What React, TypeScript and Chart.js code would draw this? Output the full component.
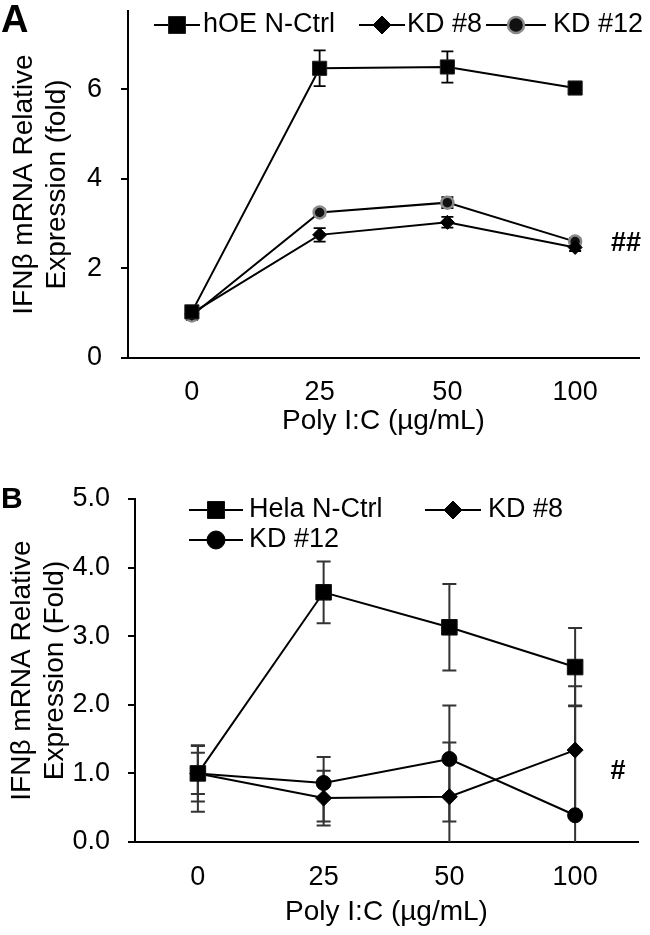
import React, { useEffect, useRef } from 'react';
import { Chart, registerables } from 'chart.js';

Chart.register(...registerables);

const FONT = "'Liberation Sans', Arial, Helvetica, sans-serif";

// ---------- data ----------
const doses = ['0', '25', '50', '100'];

// Panel A (mean, +error, -error)
const aCtrl = [1.03, 6.47, 6.5, 6.03];
const aCtrlErr = [0.1, 0.4, 0.35, 0.12];
const aKD8 = [1.0, 2.75, 3.03, 2.47];
const aKD8Err = [0.08, 0.15, 0.12, 0.08];
const aKD12 = [0.95, 3.25, 3.47, 2.6];
const aKD12Err = [0.1, 0.07, 0.12, 0.08];

// Panel B
const bCtrl = [1.0, 3.64, 3.13, 2.55];
const bCtrlErr = [0.41, 0.45, 0.63, 0.57];
const bKD8 = [1.0, 0.64, 0.66, 1.34];
const bKD8Err = [0.3, 0.4, 0.79, 0.93];
const bKD12 = [1.0, 0.86, 1.21, 0.39];
const bKD12ErrUp = [0.4, 0.38, 0.78, 1.6];
const bKD12ErrDown = [0.56, 0.56, 0.91, 1.6];

const labelsA = ['hOE N-Ctrl', 'KD #8', 'KD #12'];
const labelsB = ['Hela N-Ctrl', 'KD #8', 'KD #12'];

const yTitleA = ['IFNβ mRNA Relative', 'Expression (fold)'];
const yTitleB = ['IFNβ mRNA Relative', 'Expression (Fold)'];
const xTitle = 'Poly I:C (µg/mL)';

// ---------- helpers ----------
function drawMarker(ctx: CanvasRenderingContext2D, shape: string, x: number, y: number, r: number, fill: string, stroke: string, bw: number) {
  ctx.beginPath();
  if (shape === 'rect') {
    const s = r * Math.SQRT1_2;
    ctx.rect(x - s, y - s, 2 * s, 2 * s);
  } else if (shape === 'rectRot') {
    ctx.moveTo(x, y - r);
    ctx.lineTo(x + r, y);
    ctx.lineTo(x, y + r);
    ctx.lineTo(x - r, y);
    ctx.closePath();
  } else {
    ctx.arc(x, y, r, 0, Math.PI * 2);
    ctx.closePath();
  }
  ctx.fillStyle = fill;
  ctx.fill();
  if (bw > 0) {
    ctx.lineWidth = bw;
    ctx.strokeStyle = stroke;
    ctx.stroke();
  }
}

const errorBarPlugin = {
  id: 'errorBars',
  beforeDatasetsDraw(chart: any, _args: any, opts: any) {
    const { ctx, chartArea } = chart;
    const yScale = chart.scales.y;
    ctx.save();
    ctx.beginPath();
    ctx.rect(chartArea.left, chartArea.top - 2, chartArea.right - chartArea.left, chartArea.bottom - chartArea.top + 2);
    ctx.clip();
    ctx.strokeStyle = opts.color;
    ctx.lineWidth = opts.width;
    chart.data.datasets.forEach((ds: any, di: number) => {
      const meta = chart.getDatasetMeta(di);
      const up: number[] = ds.errorsUp || [];
      const down: number[] = ds.errorsDown || up;
      meta.data.forEach((pt: any, i: number) => {
        const v = ds.data[i];
        const eu = up[i] || 0;
        const ed = down[i] || 0;
        const x = pt.x;
        const yt = yScale.getPixelForValue(v + eu);
        const yb = yScale.getPixelForValue(v - ed);
        ctx.beginPath();
        ctx.moveTo(x, yt);
        ctx.lineTo(x, yb);
        if (v + eu <= yScale.max) {
          ctx.moveTo(x - opts.cap, yt);
          ctx.lineTo(x + opts.cap, yt);
        }
        if (v - ed >= yScale.min) {
          ctx.moveTo(x - opts.cap, yb);
          ctx.lineTo(x + opts.cap, yb);
        }
        ctx.stroke();
      });
    });
    ctx.restore();
  },
};

const lineLegendPlugin = {
  id: 'lineLegend',
  afterDraw(chart: any, _args: any, opts: any) {
    const { ctx } = chart;
    ctx.save();
    ctx.font = `${opts.fontSize}px ${FONT}`;
    ctx.textBaseline = 'middle';
    ctx.textAlign = 'left';
    (opts.items || []).forEach((it: any, di: number) => {
      const ds = chart.data.datasets[di];
      ctx.strokeStyle = '#000';
      ctx.lineWidth = 2;
      ctx.beginPath();
      ctx.moveTo(it.x0, it.y);
      ctx.lineTo(it.x1, it.y);
      ctx.stroke();
      drawMarker(ctx, ds.pointStyle, (it.x0 + it.x1) / 2, it.y, it.r, ds.pointBackgroundColor, ds.pointBorderColor, ds.pointBorderWidth);
      ctx.fillStyle = '#000';
      ctx.fillText(ds.label, it.tx, it.y);
    });
    ctx.restore();
  },
};

const panelTextPlugin = {
  id: 'panelText',
  afterDraw(chart: any, _args: any, opts: any) {
    const { ctx } = chart;
    const yScale = chart.scales.y;
    ctx.save();
    (opts.items || []).forEach((it: any) => {
      ctx.font = `bold ${it.size}px ${FONT}`;
      ctx.fillStyle = '#000';
      ctx.textAlign = it.align || 'left';
      ctx.textBaseline = it.baseline || 'alphabetic';
      const y = it.yValue !== undefined ? yScale.getPixelForValue(it.yValue) : it.y;
      ctx.fillText(it.text, it.x, y);
    });
    ctx.restore();
  },
};

function makeConfig(p: any): any {
  return {
    type: 'line',
    data: {
      labels: doses,
      datasets: p.datasets,
    },
    plugins: [errorBarPlugin, lineLegendPlugin, panelTextPlugin],
    options: {
      responsive: false,
      animation: false,
      events: [],
      layout: { padding: p.padding },
      plugins: {
        legend: { display: false },
        tooltip: { enabled: false },
        errorBars: p.err,
        lineLegend: p.legend,
        panelText: p.texts,
      },
      scales: {
        x: {
          type: 'category',
          offset: true,
          afterFit: (s: any) => {
            s.height = p.xHeight;
            s.paddingLeft = 0;
            s.paddingRight = 0;
          },
          ticks: { font: { size: 27, family: FONT }, color: '#000', padding: p.xTickPad, maxRotation: 0, autoSkip: false },
          grid: { display: false, drawTicks: false },
          border: { display: true, color: '#000', width: 2 },
          title: { display: true, text: xTitle, font: { size: 28, family: FONT }, color: '#000', padding: { top: 0, bottom: 0 } },
        },
        y: {
          type: 'linear',
          min: 0,
          max: p.yMax,
          afterFit: (s: any) => {
            s.width = p.yWidth;
            s.paddingTop = 0;
            s.paddingBottom = 0;
          },
          ticks: {
            stepSize: p.yStep,
            includeBounds: false,
            font: { size: 27, family: FONT },
            color: '#000',
            padding: p.yTickPad,
            callback: (v: any) => (p.yDecimals ? Number(v).toFixed(p.yDecimals) : String(v)),
          },
          grid: { drawOnChartArea: false, drawTicks: true, tickLength: 7, color: '#000', lineWidth: 2 },
          border: { display: true, color: '#000', width: 2 },
          title: { display: true, text: p.yTitle, font: { size: 28, family: FONT, lineHeight: 1.2 }, color: '#000', padding: { top: p.yTitlePad, bottom: 0 } },
        },
      },
    },
  };
}

function lineDs(label: string, data: number[], errorsUp: number[], errorsDown: number[], style: string, r: number, fill: string, stroke: string, bw: number) {
  return {
    label,
    data,
    errorsUp,
    errorsDown,
    borderColor: '#000',
    borderWidth: 2,
    tension: 0,
    fill: false,
    pointStyle: style,
    pointRadius: r,
    pointBackgroundColor: fill,
    pointBorderColor: stroke,
    pointBorderWidth: bw,
  };
}

function ChartPanel({ makeCfg, width, height }: { makeCfg: () => any; width: number; height: number }) {
  const ref = useRef<HTMLCanvasElement | null>(null);
  useEffect(() => {
    if (!ref.current) return;
    const chart = new Chart(ref.current, makeCfg());
    return () => chart.destroy();
  }, []);
  return <canvas ref={ref} width={width} height={height} style={{ display: 'block', width: width + 'px', height: height + 'px' }} />;
}

const configA = () =>
  makeConfig({
    datasets: [
      lineDs(labelsA[0], aCtrl, aCtrlErr, aCtrlErr, 'rect', 10, '#000', '#222', 1),
      lineDs(labelsA[1], aKD8, aKD8Err, aKD8Err, 'rectRot', 7, '#000', '#000', 1),
      lineDs(labelsA[2], aKD12, aKD12Err, aKD12Err, 'circle', 6, '#111', '#8a8a8a', 2.5),
    ],
    padding: { left: 0, right: 2, top: 11, bottom: 22 },
    yWidth: 128,
    xHeight: 80,
    yMax: 7.75,
    yStep: 2,
    yDecimals: 0,
    yTickPad: 19,
    xTickPad: 18,
    yTitle: yTitleA,
    yTitlePad: 7,
    err: { color: '#000', width: 1.8, cap: 6 },
    legend: {
      fontSize: 27,
      items: [
        { x0: 154, x1: 200, tx: 203, y: 25, r: 12 },
        { x0: 359, x1: 405, tx: 407, y: 25, r: 9 },
        { x0: 486, x1: 546, tx: 553, y: 25, r: 8 },
      ],
    },
    texts: {
      items: [
        { text: 'A', x: 1, y: 32, size: 38 },
        { text: '##', x: 626, yValue: 2.55, size: 27, align: 'center', baseline: 'middle' },
      ],
    },
  });

const configB = () =>
  makeConfig({
    datasets: [
      lineDs(labelsB[0], bCtrl, bCtrlErr, bCtrlErr, 'rect', 11, '#000', '#111', 1),
      lineDs(labelsB[1], bKD8, bKD8Err, bKD8Err, 'rectRot', 8, '#000', '#000', 1),
      lineDs(labelsB[2], bKD12, bKD12ErrUp, bKD12ErrDown, 'circle', 7.5, '#000', '#000', 1),
    ],
    padding: { left: 0, right: 12, top: 39, bottom: 6 },
    yWidth: 135,
    xHeight: 87,
    yMax: 5,
    yStep: 1,
    yDecimals: 1,
    yTickPad: 18,
    xTickPad: 19,
    yTitle: yTitleB,
    yTitlePad: 5,
    err: { color: '#333', width: 2, cap: 7 },
    legend: {
      fontSize: 27,
      items: [
        { x0: 189, x1: 243, tx: 249, y: 50, r: 12 },
        { x0: 425, x1: 481, tx: 488, y: 50, r: 9 },
        { x0: 189, x1: 243, tx: 249, y: 80, r: 9 },
      ],
    },
    texts: {
      items: [
        { text: 'B', x: 1, y: 48, size: 30 },
        { text: '#', x: 618, yValue: 1.02, size: 27, align: 'center', baseline: 'middle' },
      ],
    },
  });

export default function App() {
  useEffect(() => {
    document.body.style.margin = '0';
    document.body.style.background = '#fff';
  }, []);
  return (
    <div style={{ width: 650, height: 935, background: '#fff', overflow: 'hidden' }}>
      <ChartPanel makeCfg={configA} width={650} height={460} />
      <ChartPanel makeCfg={configB} width={650} height={475} />
    </div>
  );
}
